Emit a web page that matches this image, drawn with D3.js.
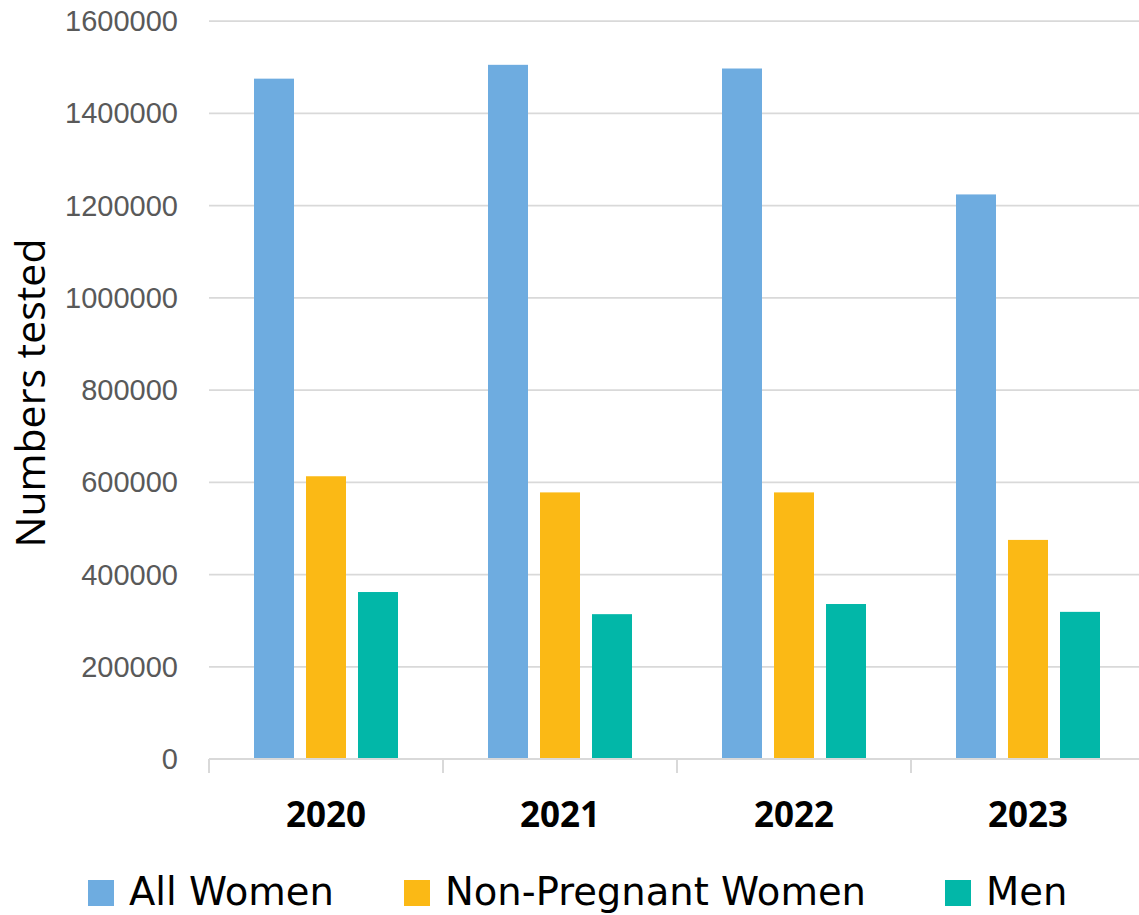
<!DOCTYPE html>
<html>
<head>
<meta charset="utf-8">
<script src="https://cdn.jsdelivr.net/npm/d3@7"></script>
<style>
  html, body { margin: 0; padding: 0; background: #ffffff; overflow: hidden; }
  svg { display: block; }
</style>
</head>
<body>
<svg id="chart" width="1139" height="915"></svg>
<script>
const years = ["2020", "2021", "2022", "2023"];
const seriesNames = ["All Women", "Non-Pregnant Women", "Men"];
const allWomen = [1475000, 1505000, 1497000, 1224000];
const nonPregnantWomen = [613000, 578000, 578000, 475000];
const men = [362000, 314000, 336000, 319000];
const yTicks = [0, 200000, 400000, 600000, 800000, 1000000, 1200000, 1400000, 1600000];
const colors = ["#6EACE0", "#FBB915", "#02B7A8"];
const yTitle = "Numbers tested";

const seriesValues = [allWomen, nonPregnantWomen, men];
const table = years.map((yr, i) => ({
  year: yr,
  values: seriesNames.map((s, j) => ({ key: s, value: seriesValues[j][i] }))
}));

const svg = d3.select("#chart");
const plot = { left: 209, right: 1145, top: 21, bottom: 759 };

const x0 = d3.scaleBand().domain(years).range([plot.left, plot.right]).paddingInner(0).paddingOuter(0);
const x1 = d3.scaleBand().domain(seriesNames).range([0, x0.bandwidth()])
  .paddingInner(12 / 52).paddingOuter(45 / 52);
const y = d3.scaleLinear().domain([0, 1600000]).range([plot.bottom, plot.top]);
const color = d3.scaleOrdinal().domain(seriesNames).range(colors);

// gridlines
svg.append("g").selectAll("line").data(yTicks.filter(d => d > 0)).join("line")
  .attr("x1", plot.left).attr("x2", plot.right)
  .attr("y1", d => y(d)).attr("y2", d => y(d))
  .attr("stroke", "#d9d9d9").attr("stroke-width", 1.75);

// y tick labels
svg.append("g").selectAll("text").data(yTicks).join("text")
  .attr("x", 178).attr("y", d => y(d)).attr("dy", "0.35em")
  .attr("text-anchor", "end")
  .attr("font-family", "'Liberation Sans', Arial, sans-serif")
  .attr("font-size", 29).attr("fill", "#595959")
  .text(d => d);

// bars
const groups = svg.append("g").selectAll("g").data(table).join("g")
  .attr("transform", d => `translate(${x0(d.year)},0)`);
groups.selectAll("rect").data(d => d.values).join("rect")
  .attr("x", d => x1(d.key)).attr("width", x1.bandwidth())
  .attr("y", d => y(d.value)).attr("height", d => y(0) - y(d.value))
  .attr("fill", d => color(d.key));

// x axis
const xAxis = svg.append("g");
xAxis.append("line").attr("x1", plot.left).attr("x2", plot.right)
  .attr("y1", plot.bottom).attr("y2", plot.bottom)
  .attr("stroke", "#d9d9d9").attr("stroke-width", 2);
const tickPos = years.map(yr => x0(yr)).concat([x0(years[years.length - 1]) + x0.bandwidth()]);
xAxis.selectAll("line.tick").data(tickPos).join("line").attr("class", "tick")
  .attr("x1", d => d).attr("x2", d => d)
  .attr("y1", plot.bottom).attr("y2", plot.bottom + 14)
  .attr("stroke", "#d9d9d9").attr("stroke-width", 2);
xAxis.selectAll("text").data(years).join("text")
  .attr("x", d => x0(d) + x0.bandwidth() / 2).attr("y", 827)
  .attr("text-anchor", "middle")
  .attr("font-family", "'Open Sans', sans-serif").attr("font-weight", "bold")
  .attr("font-size", 35).attr("fill", "#000")
  .text(d => d);

// y title
svg.append("text")
  .attr("transform", "translate(45,393) rotate(-90)")
  .attr("text-anchor", "middle")
  .attr("font-family", "'Open Sans', sans-serif")
  .attr("font-size", 41).attr("fill", "#000")
  .text(yTitle);

// legend
const legendX = [88, 404, 945];
const legend = svg.append("g").selectAll("g").data(seriesNames).join("g")
  .attr("transform", (d, i) => `translate(${legendX[i]},880)`);
legend.append("rect").attr("width", 26).attr("height", 26).attr("fill", d => color(d));
legend.append("text").attr("x", 41).attr("y", 25)
  .attr("font-family", "'DejaVu Sans', sans-serif")
  .attr("font-size", 38.5).attr("fill", "#000")
  .text(d => d);
</script>
</body>
</html>
